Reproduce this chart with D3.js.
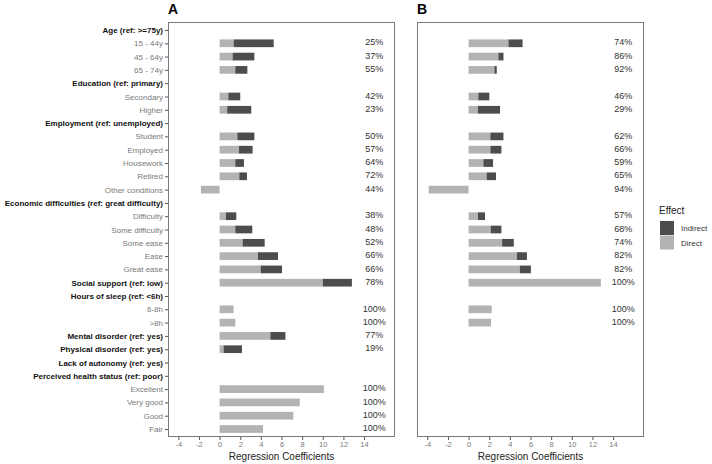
<!DOCTYPE html>
<html><head><meta charset="utf-8">
<script src="https://cdn.jsdelivr.net/npm/d3@7"></script>
<style>body{margin:0;background:#fff}svg{display:block;font-family:"Liberation Sans",Arial,sans-serif}</style>
</head><body><svg id="c" width="712" height="464"></svg>
<script>
const rows = ["Age (ref: >=75y)","15 - 44y","45 - 64y","65 - 74y","Education (ref: primary)","Secondary","Higher",
"Employment (ref: unemployed)","Student","Employed","Housework","Retired","Other conditions",
"Economic difficulties (ref: great difficulty)","Difficulty","Some difficulty","Some ease","Ease","Great ease",
"Social support (ref: low)","Hours of sleep (ref: <6h)","6-8h",">8h","Mental disorder (ref: yes)","Physical disorder (ref: yes)",
"Lack of autonomy (ref: yes)","Perceived health status (ref: poor)","Excellent","Very good","Good","Fair"];
const boldRows = [1,0,0,0,1,0,0,1,0,0,0,0,0,1,0,0,0,0,0,1,1,0,0,1,1,1,1,0,0,0,0];
const directA =   [null,1.36,1.26,1.52,null,0.84,0.74,null,1.72,1.88,1.52,1.91,-1.81,null,0.61,1.52,2.23,3.72,3.98,10.0,null,1.36,1.52,4.92,0.39,null,null,10.1,7.77,7.15,4.21];
const indirectA = [null,3.88,2.11,1.17,null,1.16,2.33,null,1.65,1.32,0.84,0.74,0,null,1.01,1.65,2.14,1.94,2.07,2.82,null,0,0,1.46,1.78,null,null,0,0,0,0];
const pctA = ["","25%","37%","55%","","42%","23%","","50%","57%","64%","72%","44%","","38%","48%","52%","66%","66%","78%","","100%","100%","77%","19%","","","100%","100%","100%","100%"];
const directB =   [null,3.86,2.89,2.5,null,0.94,0.91,null,2.11,2.11,1.43,1.75,-3.86,null,0.91,2.14,3.25,4.68,4.97,12.82,null,2.24,2.18,null,null,null,null,null,null,null,null];
const indirectB = [null,1.37,0.49,0.23,null,1.07,2.14,null,1.27,1.07,0.94,0.91,0,null,0.68,1.04,1.13,0.97,1.07,0,null,0,0,null,null,null,null,null,null,null,null];
const pctB = ["","74%","86%","92%","","46%","29%","","62%","66%","59%","65%","94%","","57%","68%","74%","82%","82%","100%","","100%","100%","","","","","","","",""];
const xTicks = [-4,-2,0,2,4,6,8,10,12,14];
const panels = [{tag:"A",direct:directA,indirect:indirectA,pct:pctA,left:168,right:395,ylab:true},
                {tag:"B",direct:directB,indirect:indirectB,pct:pctB,left:417,right:644,ylab:false}];
const effects = ["Indirect","Direct"];
const color = d3.scaleOrdinal().domain(effects).range(["#4d4d4d","#b3b3b3"]);

const svg = d3.select("#c");
svg.append("rect").attr("width",712).attr("height",464).attr("fill","#fff");
const plotTop = 22, plotBottom = 437;
const y = d3.scalePoint().domain(rows).range([plotTop,plotBottom]).padding(0.6);
const bh = y.step()*0.58;

panels.forEach(p=>{
  const x = d3.scaleLinear().domain([-5,17]).range([p.left,p.right]);
  const g = svg.append("g");
  rows.forEach((r,i)=>{
    const d = p.direct[i];
    if(d==null) return;
    g.append("rect").attr("x",x(Math.min(0,d))).attr("width",Math.abs(x(d)-x(0)))
     .attr("y",y(r)-bh/2).attr("height",bh).attr("fill",color("Direct"));
    const ind = p.indirect[i];
    if(ind){
      g.append("rect").attr("x",x(Math.min(d,d+ind))).attr("width",Math.abs(x(d+ind)-x(d)))
       .attr("y",y(r)-bh/2).attr("height",bh).attr("fill",color("Indirect"));
    }
  });
  rows.forEach((r,i)=>{
    if(!p.pct[i]) return;
    g.append("text").attr("x",x(15)).attr("y",y(r)+2.2).attr("text-anchor","middle")
     .attr("font-size",9).attr("fill","#333").text(p.pct[i]);
  });
  g.append("rect").attr("x",p.left+0.5).attr("y",plotTop+0.5).attr("width",p.right-p.left-1).attr("height",plotBottom-plotTop-1)
   .attr("fill","none").attr("stroke","#7a7a7a").attr("stroke-width",1);
  const xa = svg.append("g").attr("transform",`translate(0,${plotBottom})`)
    .call(d3.axisBottom(x).tickValues(xTicks).tickFormat(d=>String(d)).tickSize(3).tickPadding(2));
  xa.select(".domain").remove();
  xa.selectAll("line").attr("stroke","#555");
  xa.selectAll("text").attr("font-size",7.5).attr("fill","#7a7a7a").attr("font-family","Liberation Sans, Arial, sans-serif");
  svg.append("text").attr("x",(p.left+p.right)/2).attr("y",460).attr("text-anchor","middle")
    .attr("font-size",10).attr("fill","#222").text("Regression Coefficients");
  svg.append("text").attr("x",p.left).attr("y",13.5).attr("font-size",14).attr("font-weight","bold")
    .attr("fill","#000").text(p.tag);
  if(p.ylab){
    const ya = svg.append("g").attr("transform",`translate(${p.left},0)`)
      .call(d3.axisLeft(y).tickSize(3).tickPadding(2));
    ya.select(".domain").remove();
    ya.selectAll("line").attr("stroke","#555");
    ya.selectAll("text").attr("font-size",8).attr("font-family","Liberation Sans, Arial, sans-serif")
      .attr("font-weight",(d,i)=>boldRows[i]?"bold":"normal")
      .attr("fill",(d,i)=>boldRows[i]?"#111":"#7a7a7a");
  }
});

const lg = svg.append("g");
lg.append("text").attr("x",659).attr("y",214).attr("font-size",10).attr("fill","#222").text("Effect");
effects.forEach((e,i)=>{
  lg.append("rect").attr("x",660).attr("y",221+i*14.5).attr("width",14).attr("height",14).attr("fill",color(e));
  lg.append("text").attr("x",681).attr("y",231+i*14.5).attr("font-size",8).attr("fill","#333").text(e);
});
</script></body></html>
